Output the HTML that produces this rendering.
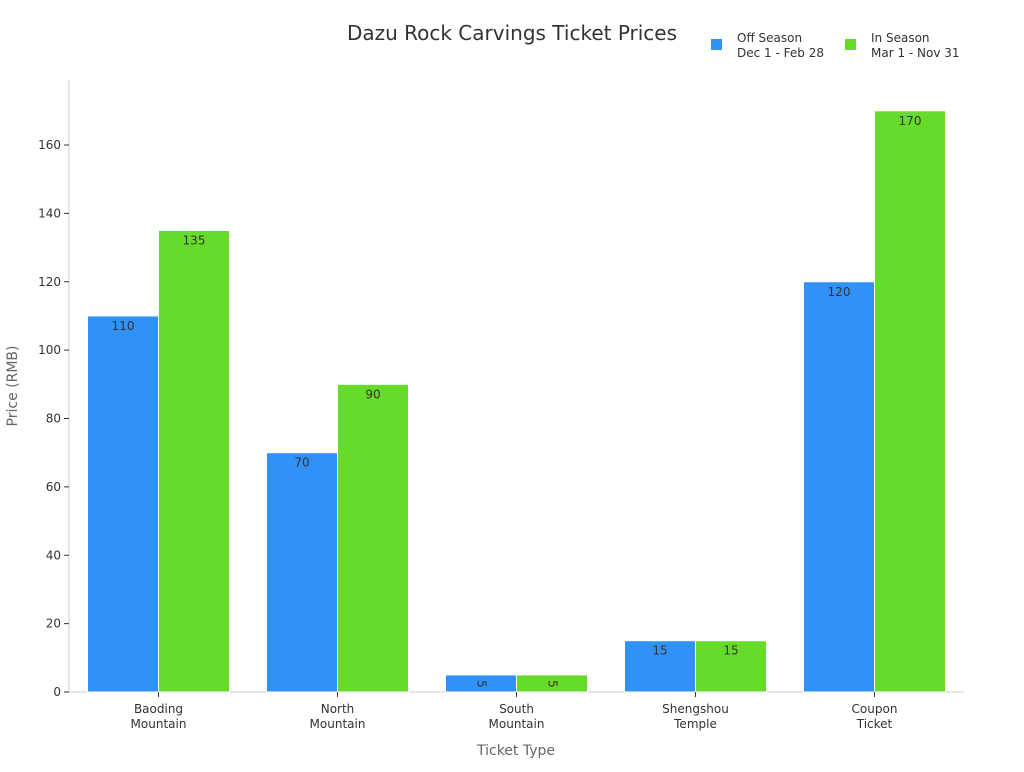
<!DOCTYPE html>
<html><head><meta charset="utf-8"><style>
body{margin:0;background:#fff;font-family:"DejaVu Sans","Liberation Sans",sans-serif;}
</style></head><body>
<svg id="c" width="1024" height="768" xmlns="http://www.w3.org/2000/svg"></svg>
<script>
const categories=[["Baoding","Mountain"],["North","Mountain"],["South","Mountain"],["Shengshou","Temple"],["Coupon","Ticket"]];
const offSeason=[110,70,5,15,120];
const inSeason=[135,90,5,15,170];
const yTicks=[0,20,40,60,80,100,120,140,160];
const svg=document.getElementById('c');
const NS='http://www.w3.org/2000/svg';
function mk(t,a,txt){const e=document.createElementNS(NS,t);for(const k in a)e.setAttribute(k,a[k]);if(txt!=null)e.textContent=txt;svg.appendChild(e);return e;}
const x0=69,x1=964,yb=692,yt=145;
const y=v=>yb-(v/160)*(yb-yt);
const band=(x1-x0)/categories.length;
const cx=i=>x0+band*(i+0.5);
const bw=71;
let e;
e=mk('text',{x:512,y:40,'text-anchor':'middle','font-size':20,fill:'#333'},'Dazu Rock Carvings Ticket Prices');


e=mk('line',{x1:x0,y1:80,x2:x0,y2:yb,stroke:'#ccc'});


e=mk('line',{x1:x0,y1:yb,x2:x1,y2:yb,stroke:'#ccc'});


yTicks.forEach(t=>{
 e=mk('line',{x1:x0-5,y1:y(t),x2:x0,y2:y(t),stroke:'#333'});
 
 
 e=mk('text',{x:x0-8,y:y(t)+4,'text-anchor':'end','font-size':12,fill:'#333'},t);
 
 
});
e=mk('text',{x:17,y:386,'text-anchor':'middle','font-size':14,fill:'#666',transform:'rotate(-90 17 386)'},'Price (RMB)');


e=mk('text',{x:516,y:755,'text-anchor':'middle','font-size':14,fill:'#666'},'Ticket Type');


function label(v,xc,yTop){
 if(y(0)-yTop<20){
  e=mk('text',{x:xc,y:yTop+9,'text-anchor':'middle','font-size':12,fill:'#333','dominant-baseline':'middle',transform:`rotate(90 ${xc} ${yTop+9})`},v);
 } else e=mk('text',{x:xc,y:yTop+14,'text-anchor':'middle','font-size':12,fill:'#333'},v);
 
 
}
categories.forEach((c,i)=>{
 const c0=cx(i);
 e=mk('rect',{x:c0-bw,y:y(offSeason[i]),width:bw,height:y(0)-y(offSeason[i]),fill:'#3091f7',stroke:'#fff','stroke-width':1});
 
 
 label(offSeason[i],c0-bw/2,y(offSeason[i]));
 e=mk('rect',{x:c0,y:y(inSeason[i]),width:bw,height:y(0)-y(inSeason[i]),fill:'#67db29',stroke:'#fff','stroke-width':1});
 
 
 label(inSeason[i],c0+bw/2,y(inSeason[i]));
 e=mk('line',{x1:c0,y1:yb,x2:c0,y2:yb+5,stroke:'#333'});
 
 
 c.forEach((s,j)=>{
  e=mk('text',{x:c0,y:yb+21+j*15,'text-anchor':'middle','font-size':12,fill:'#333'},s);
  
  
 });
});
[[711,'#3091f7','Off Season','Dec 1 - Feb 28'],[845,'#67db29','In Season','Mar 1 - Nov 31']].forEach(l=>{
 e=mk('rect',{x:l[0],y:39,width:11,height:11,fill:l[1]});
 
 
 e=mk('text',{x:l[0]+26,y:42,'font-size':12,fill:'#333'},l[2]);
 
 
 e=mk('text',{x:l[0]+26,y:57,'font-size':12,fill:'#333'},l[3]);
 
 
});
</script>
</body></html>
